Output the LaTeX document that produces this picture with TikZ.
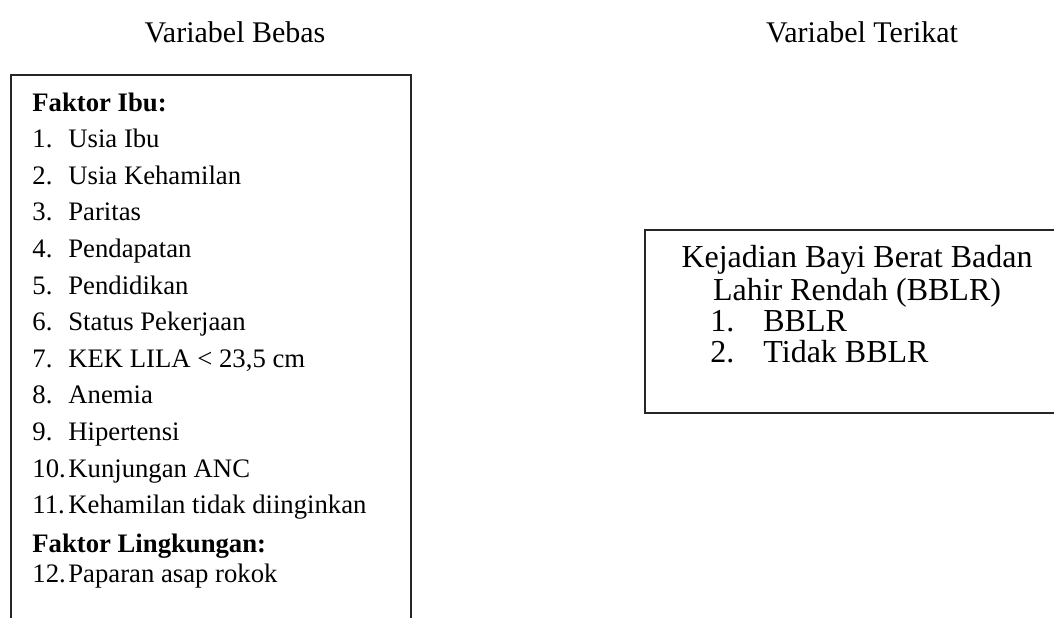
\documentclass[tikz,border=0pt]{standalone}
\usepackage{fontspec}
\setmainfont{Liberation Serif}
\newcommand{\nomor}[1]{\makebox[18pt][l]{#1}}
\newcommand{\nomorb}[1]{\makebox[26.5pt][l]{#1}}
\begin{document}
\begin{tikzpicture}[x=0.5pt,y=-0.5pt]
\tikzstyle{every node}+=[inner sep=0pt]
\tikzstyle{kiri}=[anchor=base west,font=\fontsize{13.35}{16}\selectfont]
\tikzstyle{kanan}=[font=\fontsize{16}{19}\selectfont]
\tikzstyle{judul}=[anchor=base,font=\fontsize{15}{18}\selectfont]
\tikzstyle{kotak}=[black!85, line width=0.75pt]
\clip (0,0) rectangle (1054,617);
% judul
\draw (235,42) node [judul] (bebas) {Variabel Bebas};
\draw (862,42) node [judul] (terikat) {Variabel Terikat};
% kotak variabel bebas
\draw [kotak] (11,640) -- (11,75) -- (411,75) -- (411,640);
\draw (32,111) node [kiri] (ibu) {\textbf{Faktor Ibu:}};
\draw (32,147.6) node [kiri] (x1) {\nomor{1.}Usia Ibu};
\draw (32,184.2) node [kiri] (x2) {\nomor{2.}Usia Kehamilan};
\draw (32,220.8) node [kiri] (x3) {\nomor{3.}Paritas};
\draw (32,257.4) node [kiri] (x4) {\nomor{4.}Pendapatan};
\draw (32,294) node [kiri] (x5) {\nomor{5.}Pendidikan};
\draw (32,330.6) node [kiri] (x6) {\nomor{6.}Status Pekerjaan};
\draw (32,367.2) node [kiri] (x7) {\nomor{7.}KEK LILA < 23,5 cm};
\draw (32,403.8) node [kiri] (x8) {\nomor{8.}Anemia};
\draw (32,440.4) node [kiri] (x9) {\nomor{9.}Hipertensi};
\draw (32,477) node [kiri] (x10) {\nomor{10.}Kunjungan ANC};
\draw (32,513.6) node [kiri] (x11) {\nomor{11.}Kehamilan tidak diinginkan};
\draw (32,552) node [kiri] (lingk) {\textbf{Faktor Lingkungan:}};
\draw (32,582) node [kiri] (x12) {\nomor{12.}Paparan asap rokok};
% kotak variabel terikat
\draw [kotak] (1070,230) -- (645,230) -- (645,413) -- (1070,413);
\draw (857,267) node [kanan,anchor=base] (y0) {Kejadian Bayi Berat Badan};
\draw (857,300) node [kanan,anchor=base] (y00) {Lahir Rendah (BBLR)};
\draw (710,331) node [kanan,anchor=base west] (y1) {\nomorb{1.}BBLR};
\draw (710,362) node [kanan,anchor=base west] (y2) {\nomorb{2.}Tidak BBLR};
\end{tikzpicture}
\end{document}
